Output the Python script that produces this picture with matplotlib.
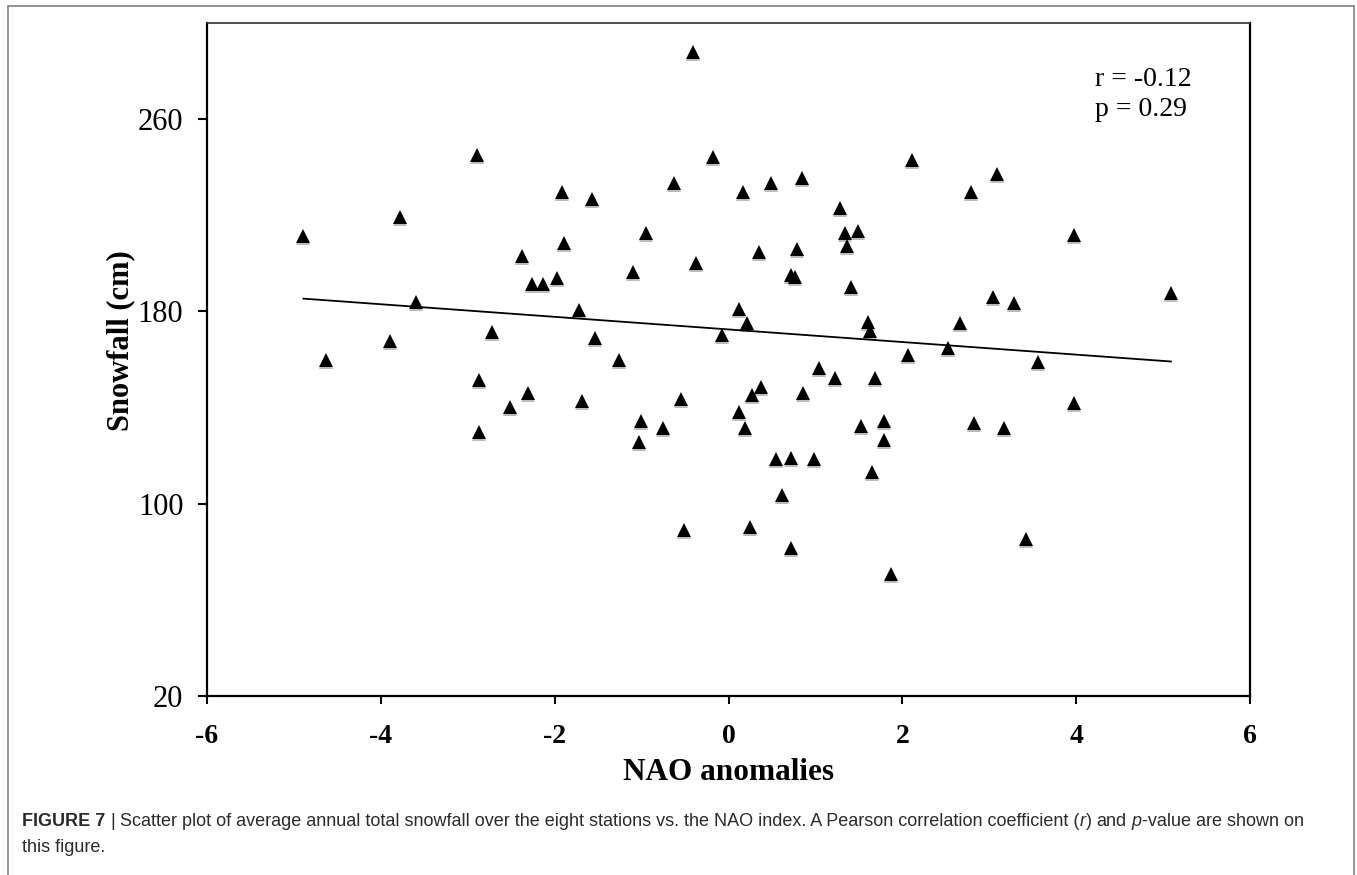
import matplotlib
matplotlib.use("Agg")
import matplotlib.pyplot as plt
import matplotlib.transforms as mtransforms
from matplotlib.patches import Rectangle
import numpy as np

# ---- data ----
nao = [-4.89, -4.63, -3.78, -3.60, -3.90, -2.72, -2.89, -2.87, -2.87, -2.51,
       -2.31, -2.38, -2.26, -2.13, -1.97, -1.91, -1.89, -1.72, -1.68, -1.57,
       -1.54, -1.26, -1.10, -1.01, -1.03, -0.95, -0.75, -0.63, -0.55, -0.51,
       -0.41, -0.37, -0.18, -0.08, 0.12, 0.12, 0.17, 0.21, 0.19, 0.25,
       0.27, 0.35, 0.37, 0.49, 0.55, 0.62, 0.72, 0.76, 0.72, 0.72,
       0.79, 0.84, 0.86, 0.98, 1.04, 1.22, 1.28, 1.34, 1.36, 1.41,
       1.49, 1.53, 1.61, 1.63, 1.65, 1.69, 1.79, 1.79, 1.87, 2.07,
       2.11, 2.53, 2.66, 2.79, 2.82, 3.04, 3.09, 3.17, 3.28, 3.42,
       3.56, 3.97, 3.97, 5.09]
snowfall = [211.3, 159.6, 219.1, 184.0, 167.8, 171.5, 245.0, 151.4, 129.9, 140.3,
            145.9, 203.0, 191.3, 191.3, 193.7, 229.8, 208.3, 180.6, 142.7, 226.6,
            168.8, 159.6, 196.5, 134.5, 125.8, 212.7, 131.4, 233.3, 143.5, 88.9,
            287.8, 200.2, 244.3, 170.2, 138.3, 181.1, 229.5, 175.0, 131.6, 90.4,
            145.2, 204.6, 148.7, 233.3, 118.5, 103.6, 195.0, 194.4, 119.1, 81.4,
            205.9, 235.5, 145.9, 118.5, 156.6, 152.2, 222.9, 212.7, 207.2, 190.0,
            213.6, 132.3, 175.7, 172.0, 113.2, 152.2, 134.5, 126.5, 70.6, 161.8,
            243.0, 164.6, 175.0, 229.5, 133.7, 186.1, 237.1, 131.6, 183.6, 85.2,
            158.9, 211.8, 142.0, 187.8]
x_ticks = [-6, -4, -2, 0, 2, 4, 6]
y_ticks = [20, 100, 180, 260]
stats_lines = ["r = -0.12", "p = 0.29"]
x_label = "NAO anomalies"
y_label = "Snowfall (cm)"

SERIF = ['Liberation Serif', 'DejaVu Serif']
SANS = ['Liberation Sans', 'DejaVu Sans']

W, H = 1357, 875
fig = plt.figure(figsize=(W / 100, H / 100), dpi=100)
fig.patch.set_facecolor('white')

ax = fig.add_axes([207 / W, 1 - 696 / H, (1250 - 207) / W, (696 - 23) / H])
ax.set_xlim(-6, 6)
ax.set_ylim(20, 300)

# shadow + markers
shadow_tr = mtransforms.offset_copy(ax.transData, fig=fig, x=0, y=-2, units='dots')
ax.plot(nao, snowfall, linestyle='none', marker='^', markersize=10,
        color='#bbbbbb', markeredgewidth=0, transform=shadow_tr, zorder=2)
ax.plot(nao, snowfall, linestyle='none', marker='^', markersize=9.5,
        color='black', markeredgewidth=0, zorder=3)

# linear trend line
coef = np.polyfit(nao, snowfall, 1)
xs = np.array([min(nao), max(nao)])
ax.plot(xs, np.polyval(coef, xs), color='black', lw=1.3, zorder=2)

for s in ax.spines.values():
    s.set_linewidth(1.6)
    s.set_color('black')
ax.spines['top'].set_linewidth(1.2)
ax.spines['top'].set_color('#333333')

ax.set_xticks(x_ticks)
ax.set_yticks(y_ticks)
ax.set_xticklabels([str(v) for v in x_ticks], fontfamily=SERIF, fontweight='bold', fontsize=20)
ax.set_yticklabels([str(v) for v in y_ticks], fontfamily=SERIF, fontsize=22)
ax.tick_params(axis='x', direction='out', length=6, width=1.5, pad=14)
ax.tick_params(axis='y', direction='out', length=6.5, width=1.5, pad=10.5)

for i, line in enumerate(stats_lines):
    ax.text(0.851, 0.916 - i * 0.0446, line, transform=ax.transAxes, ha='left',
            va='center', fontfamily=SERIF, fontsize=20)

fig.text(728.5 / W, 1 - 772 / H, x_label, ha='center', va='center',
         fontfamily=SERIF, fontweight='bold', fontsize=22.5)
fig.text(121 / W, 1 - 341 / H, y_label, ha='center', va='center', rotation=90,
         fontfamily=SERIF, fontweight='bold', fontsize=22)

# outer frame
fig.patches.append(Rectangle((8 / W, -0.02), (1354 - 8) / W, 1 - 6 / H + 0.02,
                             transform=fig.transFigure, fill=False,
                             edgecolor='#808080', lw=1.2))

# caption with mixed styles
fig.canvas.draw()
rend = fig.canvas.get_renderer()
cap_size = 13.0
cap_color = '#2b2b2b'


def width_of(txt, **kw):
    t = fig.text(0, 0, txt, fontsize=cap_size, fontfamily=SANS, **kw)
    w = t.get_window_extent(rend).width
    t.remove()
    return w


space_w = width_of("a a") - width_of("aa")

line1 = [("FIGURE 7", dict(fontweight='bold')), ("|", {}),
         ("Scatter plot of average annual total snowfall over the eight stations vs. the NAO index. A Pearson correlation coefficient (", {}),
         ("r", dict(fontstyle='italic')), (")", {}), ("and", {}),
         ("p", dict(fontstyle='italic')), ("-value are shown on", {})]
gaps_after = [True, True, False, False, True, True, False, False]


def place(runs, gaps, x0, y):
    xp = x0
    for (txt, kw), g in zip(runs, gaps):
        t = fig.text(xp / W, y, txt, fontsize=cap_size, fontfamily=SANS,
                     color=cap_color, va='center', ha='left', **kw)
        bb = t.get_window_extent(rend)
        xp = bb.x1 + (space_w if g else 0)


place(line1, gaps_after, 22, 1 - 821 / H)
place([("this figure.", {})], [False], 22, 1 - 848 / H)

fig.savefig("out.png", dpi=100, facecolor='white')
